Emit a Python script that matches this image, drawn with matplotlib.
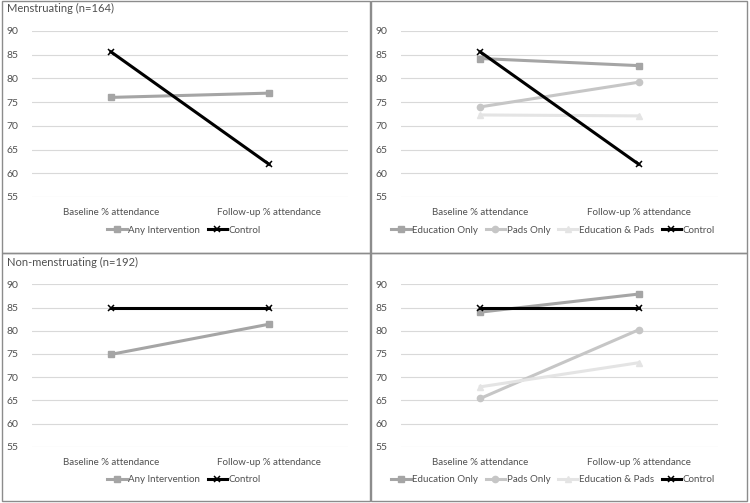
# School attendance before/after intervention, split by menstruating status

import matplotlib.pyplot as plt
from matplotlib.patches import Rectangle

plt.rcParams['font.family'] = ['Lato', 'DejaVu Sans']

categories = ['Baseline % attendance', 'Follow-up % attendance']

# menstruating girls (n=164)
mens_any = [76.0, 76.9]
mens_control = [85.6, 61.9]
mens_edu = [84.2, 82.7]
mens_pads = [74.0, 79.2]
mens_edpads = [72.3, 72.1]

# non-menstruating girls (n=192)
non_any = [74.9, 81.4]
non_control = [85.0, 85.0]
non_edu = [84.0, 87.9]
non_pads = [65.4, 80.2]
non_edpads = [67.9, 73.1]

yticks = [55, 60, 65, 70, 75, 80, 85, 90]

W, H = 750, 503
fig = plt.figure(figsize=(W / 100, H / 100), dpi=100)
fig.patch.set_facecolor('white')
txt = '#505050'

# panel frames
for (x0, y0, x1, y1) in [(2, 1, 370, 253), (371, 1, 747, 253),
                         (2, 253, 370, 501), (371, 253, 747, 501)]:
    fig.patches.append(Rectangle((x0 / W, 1 - y1 / H), (x1 - x0) / W, (y1 - y0) / H,
                                 transform=fig.transFigure, fill=False,
                                 edgecolor='#8c8c8c', linewidth=1.0))


def rect(x0, x1, ytop, ybot):
    return [x0 / W, 1 - ybot / H, (x1 - x0) / W, (ybot - ytop) / H]


styles = {
    'Any Intervention': dict(color='#a5a5a5', marker='s', markersize=4),
    'Education Only': dict(color='#a5a5a5', marker='s', markersize=4),
    'Pads Only': dict(color='#c6c6c6', marker='o', markersize=4.5),
    'Education & Pads': dict(color='#e4e4e4', marker='^', markersize=4.5),
    'Control': dict(color='black', marker='x', markersize=4, markeredgewidth=1.1),
}


def panel(pos, series, legend_x, legend_y):
    ax = fig.add_axes(rect(*pos))
    x = list(range(len(categories)))
    for name, vals in series:
        ax.plot(x, vals, linewidth=2.2, label=name, clip_on=False, **styles[name])
    ax.set_xlim(-0.5, 1.5)
    ax.set_ylim(55, 90)
    ax.set_yticks(yticks)
    ax.set_xticks(x)
    ax.set_xticklabels(categories)
    ax.grid(axis='y', color='#d9d9d9', linewidth=0.8)
    ax.set_axisbelow(True)
    for s in ax.spines.values():
        s.set_visible(False)
    ax.tick_params(length=0, labelsize=7, colors=txt, pad=8)
    ax.tick_params(axis='y', labelsize=7.5, pad=10)
    ax.legend(loc='center', bbox_to_anchor=(legend_x / W, 1 - legend_y / H),
              bbox_transform=fig.transFigure, ncol=len(series), frameon=False,
              fontsize=7, handlelength=2.0, handletextpad=0.15, columnspacing=0.8,
              labelcolor=txt)
    return ax


panel((32, 348, 31, 197), [('Any Intervention', mens_any), ('Control', mens_control)], 184, 230)
panel((401, 718, 31, 197), [('Education Only', mens_edu), ('Pads Only', mens_pads),
                            ('Education & Pads', mens_edpads), ('Control', mens_control)], 553, 230)
panel((32, 348, 284.3, 446.7), [('Any Intervention', non_any), ('Control', non_control)], 184, 480)
panel((401, 718, 284.3, 446.7), [('Education Only', non_edu), ('Pads Only', non_pads),
                                 ('Education & Pads', non_edpads), ('Control', non_control)], 553, 480)

fig.text(7 / W, 1 - 8 / H, 'Menstruating (n=164)', fontsize=8, color=txt, va='center')
fig.text(7 / W, 1 - 262 / H, 'Non-menstruating (n=192)', fontsize=8, color=txt, va='center')

fig.savefig('out.png', dpi=100)
